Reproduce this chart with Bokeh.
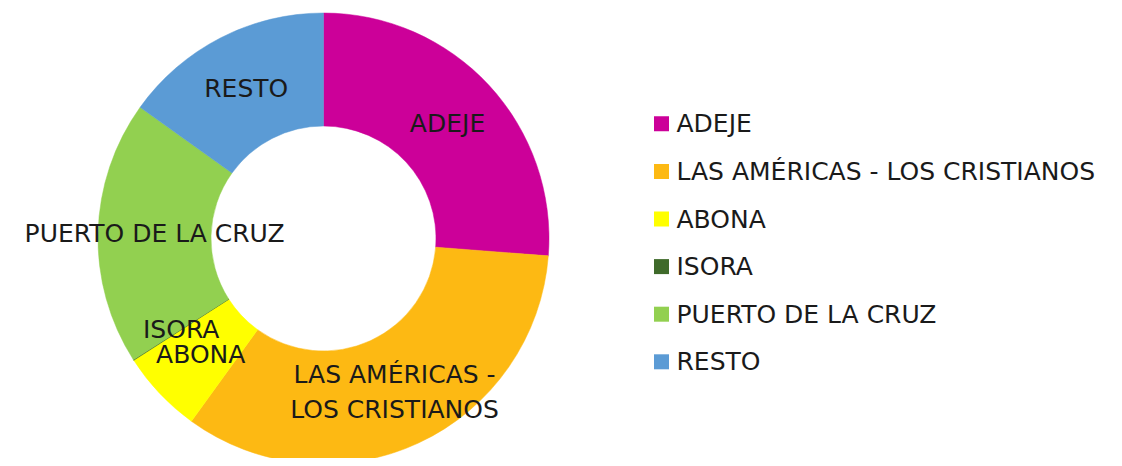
import math
from bokeh.plotting import figure
from bokeh.models import ColumnDataSource
from bokeh.core.properties import value
from bokeh.embed import file_html
from bokeh.resources import INLINE

# ---- data ----
categories = ["ADEJE", "LAS AMÉRICAS - LOS CRISTIANOS", "ABONA", "ISORA",
              "PUERTO DE LA CRUZ", "RESTO"]
shares = [26.2, 33.7, 5.95, 0.05, 18.9, 15.1]
colors = ["#CC0099", "#FDB913", "#FFFF00", "#3F6A2A", "#92D050", "#5B9BD5"]
slice_labels = ["ADEJE", "LAS AMÉRICAS -\nLOS CRISTIANOS", "ABONA", "ISORA",
                "PUERTO DE LA CRUZ", "RESTO"]

# ---- layout ----
W, H = 1114, 458
cx, cy = 323, H - 238
r_out, r_in = 225.5, 112.5
FONT = "DejaVu Sans"
FSIZE = "25px"
TXT = "#1a1a1a"

total = sum(shares)
starts, ends, mids = [], [], []
acc = 0.0
for s in shares:
    a0 = math.pi / 2 - 2 * math.pi * acc / total
    acc += s
    a1 = math.pi / 2 - 2 * math.pi * acc / total
    starts.append(a0)
    ends.append(a1)
    mids.append((a0 + a1) / 2)

r_mid = (r_out + r_in) / 2
src = ColumnDataSource(dict(
    x=[cx] * len(shares), y=[cy] * len(shares),
    start=starts, end=ends, color=colors,
    lx=[cx + r_mid * math.cos(m) for m in mids],
    ly=[cy + r_mid * math.sin(m) for m in mids],
    label=slice_labels,
))

p = figure(width=W, height=H, x_range=(0, W), y_range=(0, H),
           output_backend="svg", toolbar_location=None, min_border=0)
p.axis.visible = False
p.grid.visible = False
p.outline_line_color = None
p.background_fill_color = "white"
p.border_fill_color = "white"

p.annular_wedge(x="x", y="y", inner_radius=r_in, outer_radius=r_out,
                start_angle="start", end_angle="end", direction="clock",
                fill_color="color", line_color="color", line_width=0.5,
                source=src)

p.text(x="lx", y="ly", text="label", source=src, text_align="center",
       text_baseline="middle", text_font=value(FONT), text_font_size=FSIZE,
       text_color=TXT, text_line_height=1.2)

# ---- legend ----
leg_x_sq, leg_x_txt = 661, 676
leg_y0, leg_dy = H - 123.3, 47.6
leg = ColumnDataSource(dict(
    xs=[leg_x_sq] * len(categories),
    xt=[leg_x_txt] * len(categories),
    y=[leg_y0 - i * leg_dy for i in range(len(categories))],
    color=colors, label=categories,
))
p.scatter(x="xs", y="y", marker="square", size=15, fill_color="color",
          line_color=None, source=leg)
p.text(x="xt", y="y", text="label", source=leg, text_align="left",
       text_baseline="middle", text_font=value(FONT), text_font_size=FSIZE,
       text_color=TXT)

open("out.html", "w").write(file_html(p, INLINE))
